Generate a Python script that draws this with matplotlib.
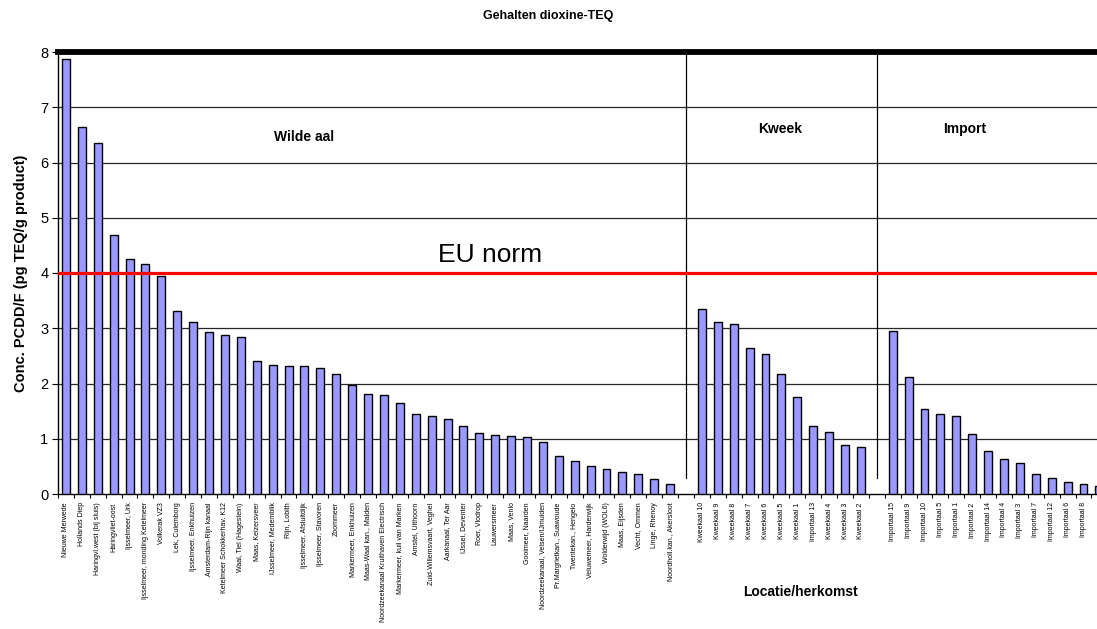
import numpy as np
import matplotlib.pyplot as plt

plt.rcParams['font.family'] = ['Liberation Sans', 'DejaVu Sans']

# Wilde aal
wild_labels = ["Nieuwe Merwede", "Hollands Diep", "Haringvl.west (bij sluis)", "Haringvliet-oost",
               "Ijsselmeer, Urk", "Ijsselmeer, monding Ketelmeer", "Volkerak VZ3", "Lek, Culemborg",
               "Ijsselmeer, Enkhuizen", "Amsterdam-Rijn kanaal", "Ketelmeer Schokkerhav. K12",
               "Waal, Tiel (Hagestein)", "Maas, Keizersveer", "IJsselmeer, Medemblik", "Rijn, Lobith",
               "Ijsselmeer, Afsluitdijk", "Ijsselmeer, Stavoren", "Zoommeer", "Markermeer, Enkhuizen",
               "Maas-Waal kan., Malden", "Noordzeekanaal Kruithaven Electrisch",
               "Markermeer, kuil van Marken", "Amstel, Uithoorn", "Zuid-Willemsvaart, Veghel",
               "Aarkanaal, Ter Aar", "IJssel, Deventer", "Roer, Vlodrop", "Lauwersmeer", "Maas, Venlo",
               "Gooimeer, Naarden", "Noordzeekanaal, Velsen/IJmuiden", "Pr.Margrietkan., Suawoude",
               "Twentekan., Hengelo", "Veluwemeer, Harderwijk", "Wolderwijd (WOL6)", "Maas, Eijsden",
               "Vecht, Ommen", "Linge, Rhenoy", "Noordholl.kan., Akersloot"]
wild_values = [7.87, 6.65, 6.35, 4.69, 4.26, 4.17, 3.95, 3.31, 3.11, 2.93, 2.87, 2.84, 2.40, 2.33,
               2.32, 2.31, 2.28, 2.17, 1.98, 1.81, 1.80, 1.64, 1.44, 1.41, 1.36, 1.23, 1.10, 1.07,
               1.05, 1.03, 0.95, 0.69, 0.60, 0.51, 0.45, 0.40, 0.36, 0.27, 0.19]

# Kweek
kweek_labels = ["Kweekaal 10", "Kweekaal 9", "Kweekaal 8", "Kweekaal 7", "Kweekaal 6", "Kweekaal 5",
                "Kweekaal 1", "Importaal 13", "Kweekaal 4", "Kweekaal 3", "Kweekaal 2"]
kweek_values = [3.35, 3.11, 3.07, 2.65, 2.54, 2.17, 1.76, 1.23, 1.12, 0.89, 0.85]

# Import
import_labels = ["Importaal 15", "Importaal 9", "Importaal 10", "Importaal 5", "Importaal 1",
                 "Importaal 2", "Importaal 14", "Importaal 4", "Importaal 3", "Importaal 7",
                 "Importaal 12", "Importaal 6", "Importaal 8", "Importaal 11"]
import_values = [2.95, 2.12, 1.54, 1.45, 1.42, 1.08, 0.78, 0.63, 0.56, 0.36, 0.29, 0.21, 0.19, 0.15]

eu_norm = 4

# categories with an empty slot between the groups
labels = wild_labels + [""] + kweek_labels + [""] + import_labels
values = wild_values + [np.nan] + kweek_values + [np.nan] + import_values
x = np.arange(len(labels))
sep1 = len(wild_labels)
sep2 = sep1 + 1 + len(kweek_labels)

fig = plt.figure(figsize=(10.97, 6.29), dpi=100)
ax = fig.add_axes([58 / 1097, 1 - 494 / 629, 1 - 58 / 1097, (494 - 52) / 629])

ax.bar(x, values, width=0.5, color="#9999ff", edgecolor="black", linewidth=1.0, zorder=3)

for g in range(1, 8):
    if g != eu_norm:
        ax.axhline(g, color="0.15", lw=0.9, zorder=1)
ax.axhline(eu_norm, color="#ff0000", lw=2.3, zorder=4)
ax.axhline(8, color="black", lw=4.2, zorder=5, clip_on=False)

for s in (sep1, sep2):
    ax.plot([s, s], [0.29, 8], color="black", lw=0.9, zorder=2)

ax.spines["top"].set_visible(False)
ax.spines["right"].set_visible(False)
ax.spines["left"].set_linewidth(1.0)
ax.spines["bottom"].set_linewidth(1.0)

ax.set_yticks(range(0, 9))
ax.tick_params(axis="y", direction="out", length=4, labelsize=10.5, pad=3)
ax.set_xticks(x)
ax.set_xticklabels(labels, rotation=90, fontsize=5.0, va="top", ha="center")
ax.set_xticks(np.arange(-0.5, len(labels)), minor=True)
ax.tick_params(axis="x", which="major", length=0, pad=6)
ax.tick_params(axis="x", which="minor", direction="out", length=3, width=0.8)

# limits after the ticks, since set_xticks may widen the view
ax.set_xlim(-0.5, 64.85)
ax.set_ylim(0, 8)

ax.text(15.0, 6.47, "Wilde aal", ha="center", va="center", fontsize=10, fontweight="bold")
ax.text(44.9, 6.61, "Kweek", ha="center", va="center", fontsize=10, fontweight="bold")
ax.text(56.5, 6.61, "Import", ha="center", va="center", fontsize=10, fontweight="bold")
ax.text(26.7, 4.33, "EU norm", ha="center", va="center", fontsize=19)

ax.set_ylabel("Conc. PCDD/F (pg TEQ/g product)", fontsize=10.5, fontweight="bold", labelpad=9)
fig.text(548 / 1097, 1 - 16 / 629, "Gehalten dioxine-TEQ", ha="center", va="center",
         fontsize=9, fontweight="bold")
fig.text(800 / 1097, 1 - 592 / 629, "Locatie/herkomst", ha="center", va="center",
         fontsize=10, fontweight="bold")

fig.savefig("out.png", dpi=100)
